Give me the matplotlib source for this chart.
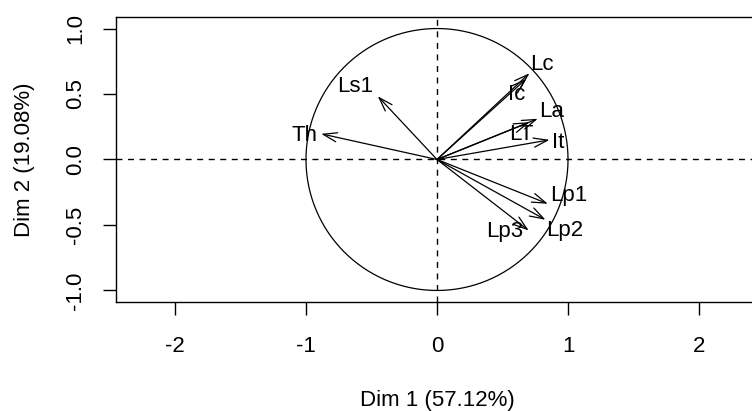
"""
PCA variables factor map (correlation circle), Dim 1 vs Dim 2
"""
import numpy as np
import matplotlib
matplotlib.use('Agg')
import matplotlib.pyplot as plt

plt.rcParams['font.family'] = ['Liberation Sans', 'DejaVu Sans']

variables = ['Lc', 'Ic', 'Ls1', 'Th', 'La', 'LT', 'It', 'Lp1', 'Lp2', 'Lp3']
dim1 = [0.706, 0.681, -0.452, -0.884, 0.769, 0.706, 0.859, 0.846, 0.828, 0.700]
dim2 = [0.659, 0.616, 0.483, 0.196, 0.311, 0.285, 0.150, -0.338, -0.460, -0.542]
dim1_pct = 57.12
dim2_pct = 19.08

# label offsets from arrow tip, in points
label_offsets = {
    'Lc': (9, 6), 'Ic': (-7, -11), 'Ls1': (-16, 7), 'Th': (-12, -1),
    'La': (10, 5), 'LT': (-6, -9), 'It': (6, -2), 'Lp1': (15, 6),
    'Lp2': (14, -8), 'Lp3': (-17, -1),
}

fig = plt.figure(figsize=(7.52, 4.11), dpi=100)
ax = fig.add_axes([116 / 752, 1 - 302 / 411, 642 / 752, 285 / 411])

ax.set_xlim(-2.45, 2.45)
ax.set_ylim(-1.088, 1.088)

theta = np.linspace(0, 2 * np.pi, 400)
ax.plot(np.cos(theta), np.sin(theta), color='black', lw=0.9)
ax.axhline(0, color='black', lw=1.0, ls=(0, (4.3, 4)))
ax.axvline(0, color='black', lw=1.0, ls=(0, (4.3, 4)))

for name, x, y in zip(variables, dim1, dim2):
    ax.annotate('', xy=(x, y), xytext=(0, 0),
                arrowprops=dict(arrowstyle='->, head_length=1.0, head_width=0.33',
                                color='black', lw=0.9, shrinkA=0, shrinkB=0))
    dx, dy = label_offsets[name]
    ax.annotate(name, xy=(x, y), xytext=(dx, dy), textcoords='offset points',
                ha='center', va='center', fontsize=16)

ax.set_xticks([-2, -1, 0, 1, 2])
ax.set_xticklabels(['-2', '-1', '0', '1', '2'])
ax.set_yticks([-1, -0.5, 0, 0.5, 1])
ax.set_yticklabels(['-1.0', '-0.5', '0.0', '0.5', '1.0'], rotation=90, va='center')
ax.tick_params(axis='both', direction='out', length=9.5, width=1, labelsize=16)
ax.tick_params(axis='x', pad=15)
ax.tick_params(axis='y', pad=12)
for s in ax.spines.values():
    s.set_linewidth(1)

ax.set_xlabel('Dim 1 (%.2f%%)' % dim1_pct, fontsize=16, labelpad=24)
ax.set_ylabel('Dim 2 (%.2f%%)' % dim2_pct, fontsize=16, labelpad=22)

fig.savefig('out.png', dpi=100)
